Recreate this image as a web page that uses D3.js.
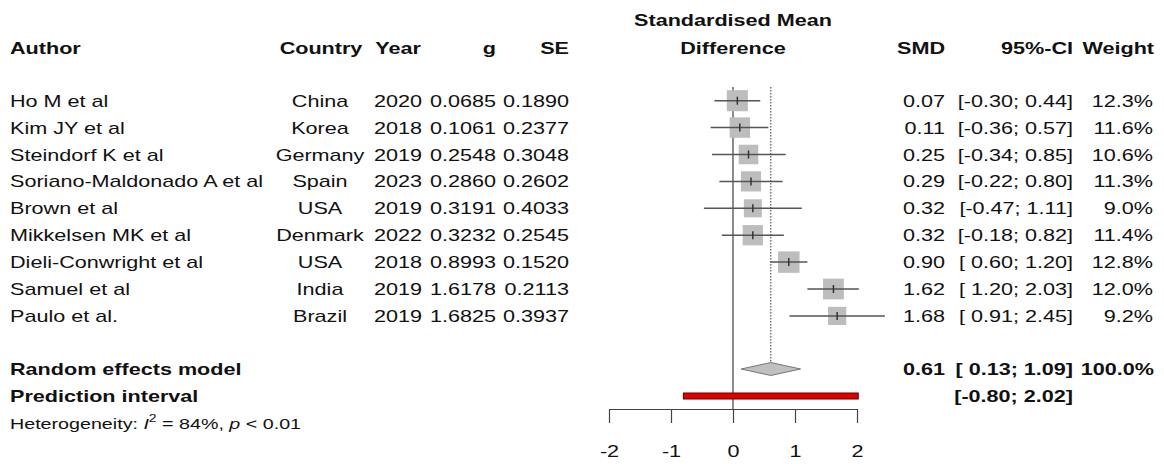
<!DOCTYPE html>
<html>
<head>
    <meta charset="utf-8">
    <title>forest</title>
    <style>
        body {
            margin: 0;
            padding: 0;
            background: #ffffff;
        }
        svg text {
            font-family: "Liberation Sans", Arial, sans-serif;
            font-size: 17px;
            fill: #111;
        }
        .bold { font-weight: bold; }
    </style>
</head>
<body>
    <svg id="chart" width="1164" height="464"></svg>
    <script src="https://d3js.org/d3.v7.min.js"></script>
    <script>
        // study data
        const authors = ['Ho M et al', 'Kim JY et al', 'Steindorf K et al', 'Soriano-Maldonado A et al',
            'Brown et al', 'Mikkelsen MK et al', 'Dieli-Conwright et al', 'Samuel et al', 'Paulo et al.'];
        const countries = ['China', 'Korea', 'Germany', 'Spain', 'USA', 'Denmark', 'USA', 'India', 'Brazil'];
        const years = [2020, 2018, 2019, 2023, 2019, 2022, 2018, 2019, 2019];
        const gVals = ['0.0685', '0.1061', '0.2548', '0.2860', '0.3191', '0.3232', '0.8993', '1.6178', '1.6825'];
        const seVals = ['0.1890', '0.2377', '0.3048', '0.2602', '0.4033', '0.2545', '0.1520', '0.2113', '0.3937'];
        const smd = [0.07, 0.11, 0.25, 0.29, 0.32, 0.32, 0.90, 1.62, 1.68];
        const lower = [-0.30, -0.36, -0.34, -0.22, -0.47, -0.18, 0.60, 1.20, 0.91];
        const upper = [0.44, 0.57, 0.85, 0.80, 1.11, 0.82, 1.20, 2.03, 2.45];
        const weights = [12.3, 11.6, 10.6, 11.3, 9.0, 11.4, 12.8, 12.0, 9.2];

        // pooled estimate
        const pooled = { est: 0.61, lo: 0.13, hi: 1.09, piLo: -0.80, piHi: 2.02 };
        const axisTicks = [-2, -1, 0, 1, 2];

        const svg = d3.select('#chart');
        const x = d3.scaleLinear().domain([-2, 2]).range([609, 857]);
        const rowY = d3.scaleLinear().domain([0, 1]).range([100.7, 127.6]);
        const yPooled = 369;
        const yPred = 396;
        const axisY = 409;
        const stretch = 1.27; // picture text is wider than tall

        const loc = d3.formatLocale({ decimal: '.', thousands: ',', grouping: [3], currency: ['', ''], minus: '-' });
        const fmt2 = loc.format('.2f');
        const fmtCI = v => (v < 0 ? '' : '\u00a0') + fmt2(v);

        function addText(x0, y0, str, anchor, bold) {
            return svg.append('text')
                .attr('transform', `translate(${x0},${y0}) scale(${stretch},1)`)
                .attr('text-anchor', anchor || 'start')
                .attr('class', bold ? 'bold' : null)
                .text(str);
        }

        // headers
        addText(10, 54, 'Author', 'start', true);
        addText(321, 54, 'Country', 'middle', true);
        addText(398, 54, 'Year', 'middle', true);
        addText(496, 54, 'g', 'end', true);
        addText(569, 54, 'SE', 'end', true);
        addText(x(0), 26, 'Standardised Mean', 'middle', true);
        addText(x(0), 54, 'Difference', 'middle', true);
        addText(945, 54, 'SMD', 'end', true);
        addText(1073, 54, '95%-CI', 'end', true);
        addText(1154, 54, 'Weight', 'end', true);

        // reference lines
        svg.append('line')
            .attr('x1', x(0)).attr('x2', x(0))
            .attr('y1', 87).attr('y2', axisY)
            .attr('stroke', '#8c8c8c').attr('stroke-width', 2);
        svg.append('line')
            .attr('x1', x(pooled.est)).attr('x2', x(pooled.est))
            .attr('y1', 87).attr('y2', yPooled - 7)
            .attr('stroke', '#333').attr('stroke-width', 1)
            .attr('stroke-dasharray', '1.5,1.5');

        // study rows
        authors.forEach((a, i) => {
            const y = rowY(i);
            const side = 6 * Math.sqrt(weights[i]);
            svg.append('rect')
                .attr('x', x(smd[i]) - side / 2).attr('y', y - side / 2)
                .attr('width', side).attr('height', side)
                .attr('fill', '#bdbdbd');
            svg.append('line')
                .attr('x1', x(lower[i])).attr('x2', x(upper[i]))
                .attr('y1', y).attr('y2', y)
                .attr('stroke', '#555').attr('stroke-width', 1.5);
            svg.append('line')
                .attr('x1', x(smd[i])).attr('x2', x(smd[i]))
                .attr('y1', y - 4).attr('y2', y + 4)
                .attr('stroke', '#333').attr('stroke-width', 1.5);

            const ty = y + 6;
            addText(10, ty, a);
            addText(320, ty, countries[i], 'middle');
            addText(398, ty, years[i], 'middle');
            addText(496, ty, gVals[i], 'end');
            addText(569, ty, seVals[i], 'end');
            addText(945, ty, fmt2(smd[i]), 'end');
            addText(1073, ty, '[' + fmtCI(lower[i]) + '; ' + fmt2(upper[i]) + ']', 'end');
            addText(1153, ty, weights[i].toFixed(1) + '%', 'end');
        });

        // pooled diamond
        const dh = 6.5;
        svg.append('path')
            .attr('d', `M${x(pooled.lo)},${yPooled} L${x(pooled.est)},${yPooled - dh} L${x(pooled.hi)},${yPooled} L${x(pooled.est)},${yPooled + dh} Z`)
            .attr('fill', '#c0c0c0').attr('stroke', '#777').attr('stroke-width', 1);

        // prediction interval
        svg.append('rect')
            .attr('x', x(pooled.piLo)).attr('y', yPred - 3)
            .attr('width', x(pooled.piHi) - x(pooled.piLo)).attr('height', 6)
            .attr('fill', '#e00000').attr('stroke', '#600').attr('stroke-width', 1);

        // summary text
        addText(10, yPooled + 6, 'Random effects model', 'start', true);
        addText(10, yPred + 6, 'Prediction interval', 'start', true);
        const het = addText(10, 429, '').style('font-size', '15.5px');
        het.append('tspan').text('Heterogeneity: ');
        het.append('tspan').style('font-style', 'italic').text('I');
        het.append('tspan').attr('dy', -7).style('font-size', '11px').text('2');
        het.append('tspan').attr('dy', 7).text(' = 84%, ');
        het.append('tspan').style('font-style', 'italic').text('p');
        het.append('tspan').text(' < 0.01');

        addText(945, yPooled + 6, fmt2(pooled.est), 'end', true);
        addText(1073, yPooled + 6, '[' + fmtCI(pooled.lo) + '; ' + fmt2(pooled.hi) + ']', 'end', true);
        addText(1154, yPooled + 6, '100.0%', 'end', true);
        addText(1073, yPred + 6, '[' + fmt2(pooled.piLo) + '; ' + fmt2(pooled.piHi) + ']', 'end', true);

        // x axis
        const axis = svg.append('g')
            .attr('transform', `translate(0,${axisY})`)
            .call(d3.axisBottom(x).tickValues(axisTicks).tickSize(14).tickSizeOuter(0).tickPadding(22)
                .tickFormat(loc.format('d')));
        axis.select('.domain').attr('stroke', '#444').attr('stroke-width', 1.2);
        axis.selectAll('.tick line').attr('stroke', '#444').attr('stroke-width', 1.2);
        axis.selectAll('.tick text')
            .attr('transform', `scale(${stretch},1)`)
            .style('font-family', '"Liberation Sans", Arial, sans-serif')
            .style('font-size', '17px').attr('fill', '#111');
    </script>
</body>
</html>
